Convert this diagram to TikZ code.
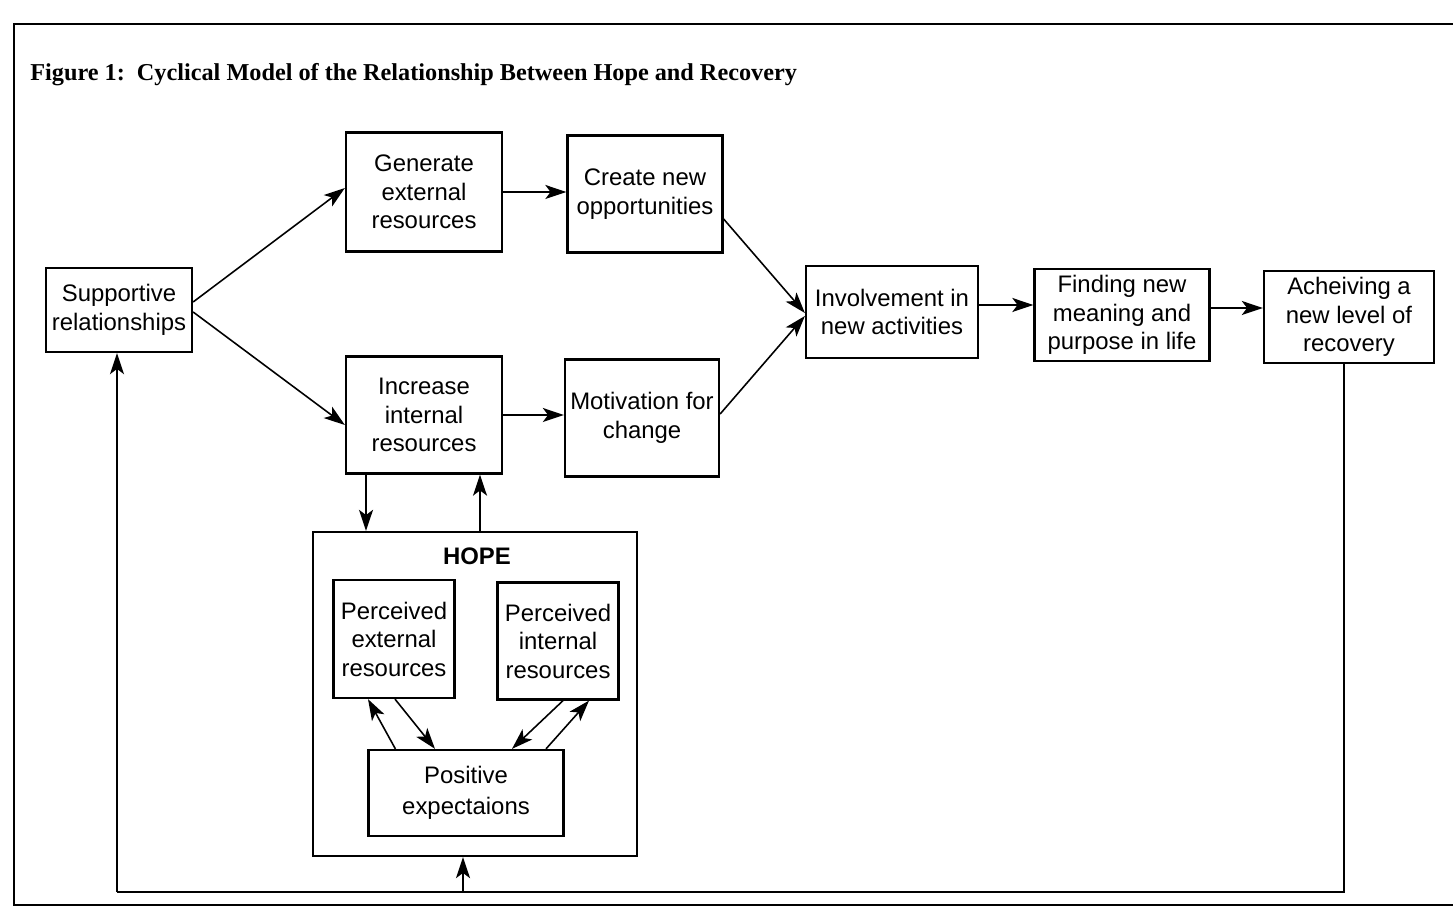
\documentclass[tikz,border=0pt]{standalone}
\usepackage{fontspec}
\setmainfont{Liberation Serif}
\setsansfont{Liberation Sans}
\usetikzlibrary{arrows.meta,calc}

\begin{document}
\begin{tikzpicture}[x=0.02cm,y=-0.02cm,
  box/.style={draw,line width=1.3pt,align=center,inner sep=1pt,
    font=\sffamily\fontsize{13.6}{16.2}\selectfont},
  arr/.style={line width=0.9pt,-{Stealth[length=12pt,width=8pt,inset=3pt]}}]
\useasboundingbox (0,0) rectangle (1453,911);

% {Frame and title};
\draw [line width=1.2pt] (1453,24) -- (14,24) -- (14,905) -- (1453,905);
\node[anchor=base west,inner sep=0,font=\bfseries\fontsize{13.8}{16}\selectfont]
  (title) at (30,81) {Figure 1:\ \ Cyclical Model of the Relationship Between Hope and Recovery};

% {Main row};
\node[box,minimum width=2.92cm,minimum height=1.68cm] (supp) at (119,310) {Supportive\\relationships};
\node[box,minimum width=3.12cm,minimum height=2.38cm] (gen) at (424,192) {Generate\\external\\resources};
\node[box,minimum width=3.10cm,minimum height=2.34cm] (create) at (645,194) {Create new\\opportunities};
\node[box,minimum width=3.12cm,minimum height=2.34cm] (incr) at (424,415) {Increase\\internal\\resources};
\node[box,minimum width=3.08cm,minimum height=2.34cm] (motiv) at (642,418) {Motivation for\\change};
\node[box,minimum width=3.44cm,minimum height=1.84cm] (invol) at (892,312) {Involvement in\\new activities};
\node[box,minimum width=3.50cm,minimum height=1.84cm] (find) at (1122,315) {Finding new\\meaning and\\purpose in life};
\node[box,minimum width=3.40cm,minimum height=1.84cm] (ach) at (1349,317) {Acheiving a\\new level of\\recovery};

% {Hope};
\node[box,minimum width=6.48cm,minimum height=6.48cm] (hope) at (475,694) {};
\node[font=\sffamily\bfseries\fontsize{13.6}{16.2}\selectfont] (hopelbl) at (477,556) {HOPE};
\node[box,minimum width=2.42cm,minimum height=2.36cm] (pext) at (394,639) {Perceived\\external\\resources};
\node[box,minimum width=2.42cm,minimum height=2.34cm] (pint) at (558,641) {Perceived\\internal\\resources};
\node[box,minimum width=3.90cm,minimum height=1.72cm,
  font=\sffamily\fontsize{13.6}{18}\selectfont] (pos) at (466,793) {Positive\\expectaions};

% {Arrows};
\draw [arr] ($(supp.east)+(0,-8)$) -- ($(gen.west)+(0,-4)$);
\draw [arr] ($(supp.east)+(0,2)$) -- ($(incr.west)+(0,10)$);
\draw [arr] (gen.east) -- (gen.east -| create.west);
\draw [arr] (incr.east) -- (incr.east -| motiv.west);
\draw [arr] ($(create.east)+(0,25)$) -- ($(invol.west)+(0,1)$);
\draw [arr] ($(motiv.east)+(0,-4)$) -- ($(invol.west)+(0,4)$);
\draw [arr] ($(invol.east)+(0,-7)$) coordinate (r1) -- (r1 -| find.west);
\draw [arr] ($(find.east)+(0,-7)$) coordinate (r2) -- (r2 -| ach.west);

\draw [arr] ($(incr.south)+(-58,0)$) coordinate (d1) -- (d1 |- hope.north);
\draw [arr] ($(hope.north)+(5,0)$) coordinate (u1) -- (u1 |- incr.south);

\draw [arr] ($(pos.north west)+(28,0)$) -- ($(pext.south)+(-26,0)$);
\draw [arr] ($(pext.south)+(1,0)$) -- ($(pos.north)+(-31,0)$);
\draw [arr] ($(pint.south)+(5,0)$) -- ($(pos.north)+(46,0)$);
\draw [arr] ($(pos.north)+(80,0)$) -- ($(pint.south)+(31,0)$);

% {Feedback loop};
\coordinate (loopl) at (117,892);
\coordinate (hopein) at (463,892);
\draw [line width=0.9pt] ($(ach.south)+(-5,0)$) |- (loopl);
\draw [arr] (loopl) -- (loopl |- supp.south);
\draw [arr] (hopein) -- (hopein |- hope.south);
\end{tikzpicture}
\end{document}
